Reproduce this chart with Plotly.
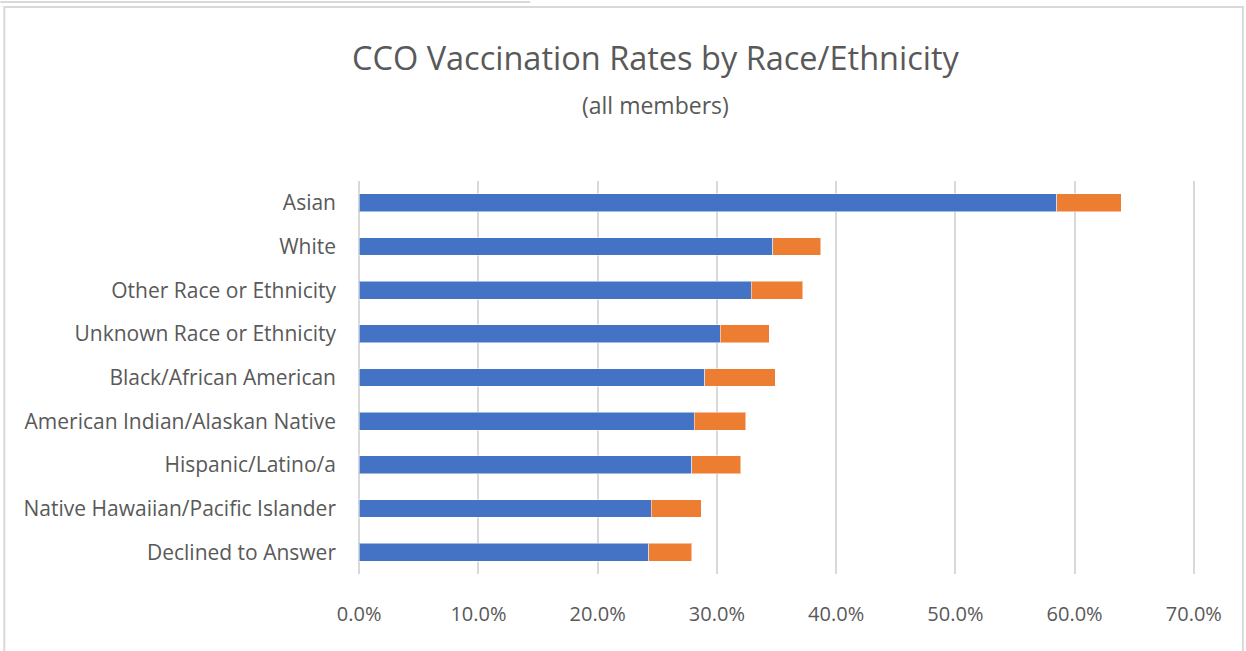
import plotly.graph_objects as go

categories = [
    "Asian",
    "White",
    "Other Race or Ethnicity",
    "Unknown Race or Ethnicity",
    "Black/African American",
    "American Indian/Alaskan Native",
    "Hispanic/Latino/a",
    "Native Hawaiian/Pacific Islander",
    "Declined to Answer",
]
series_blue = [0.585, 0.347, 0.329, 0.303, 0.290, 0.281, 0.279, 0.245, 0.243]
series_orange = [0.054, 0.040, 0.043, 0.041, 0.059, 0.043, 0.041, 0.042, 0.036]
tick_vals = [0, 0.1, 0.2, 0.3, 0.4, 0.5, 0.6, 0.7]
tick_text = ["0.0%", "10.0%", "20.0%", "30.0%", "40.0%", "50.0%", "60.0%", "70.0%"]

FONT = "Open Sans, sans-serif"
GRAY = "#595959"

fig = go.Figure()
fig.add_trace(go.Bar(
    y=categories, x=series_blue, orientation="h", name="Series 1",
    marker=dict(color="#4472C4", line=dict(color="rgba(255,255,255,0.5)", width=1)),
))
fig.add_trace(go.Bar(
    y=categories, x=series_orange, orientation="h", name="Series 2",
    marker=dict(color="#ED7D31", line=dict(color="rgba(255,255,255,0.5)", width=1)),
))

# axis 0 at x=359px, 0.7 at x=1194px; plot area y 181..574
X0, X70 = 359, 1194
scale = (X70 - X0) / 0.7
XMIN, XMAX = -0.001, 0.706
L = X0 + XMIN * scale
R = X0 + XMAX * scale
T, B = 181, 574
W, H = R - L, B - T
def px(x):
    return (x - L) / W
def py(y):
    return (B - y) / H

fig.update_layout(
    barmode="stack",
    bargap=0.59,
    width=1246, height=651,
    margin=dict(l=L, r=1246 - R, t=T, b=651 - B, autoexpand=False),
    paper_bgcolor="white", plot_bgcolor="white",
    showlegend=False,
    font=dict(family=FONT, color=GRAY),
    xaxis=dict(
        range=[XMIN, XMAX], tickvals=tick_vals, ticktext=tick_text,
        showgrid=True, gridcolor="#d9d9d9", gridwidth=2,
        zeroline=True, zerolinecolor="#d9d9d9", zerolinewidth=2,
        showline=False, ticks="",
        tickfont=dict(size=20, color=GRAY, family=FONT),
        ticklabelstandoff=26,
    ),
    yaxis=dict(
        categoryorder="array", categoryarray=categories[::-1],
        showgrid=False, zeroline=False, ticks="",
        tickfont=dict(size=21, color=GRAY, family=FONT),
        ticklabelstandoff=21,
    ),
    annotations=[
        dict(text="CCO Vaccination Rates by Race/Ethnicity", xref="paper", yref="paper",
             x=px(656), y=py(57), xanchor="center", yanchor="middle", showarrow=False,
             font=dict(size=32.5, color=GRAY, family=FONT)),
        dict(text="(all members)", xref="paper", yref="paper",
             x=px(655), y=py(105), xanchor="center", yanchor="middle", showarrow=False,
             font=dict(size=23, color=GRAY, family=FONT)),
    ],
    shapes=[
        dict(type="rect", xref="paper", yref="paper", x0=px(4), x1=px(1243), y0=py(652), y1=py(7),
             line=dict(color="#d9d9d9", width=2), layer="below"),
        dict(type="line", xref="paper", yref="paper", x0=px(0), x1=px(530), y0=py(2), y1=py(2),
             line=dict(color="#d9d9d9", width=2), layer="below"),
    ],
)

fig.write_html("out.html", config={"displayModeBar": False},
               post_script="document.body.style.margin='0';")
